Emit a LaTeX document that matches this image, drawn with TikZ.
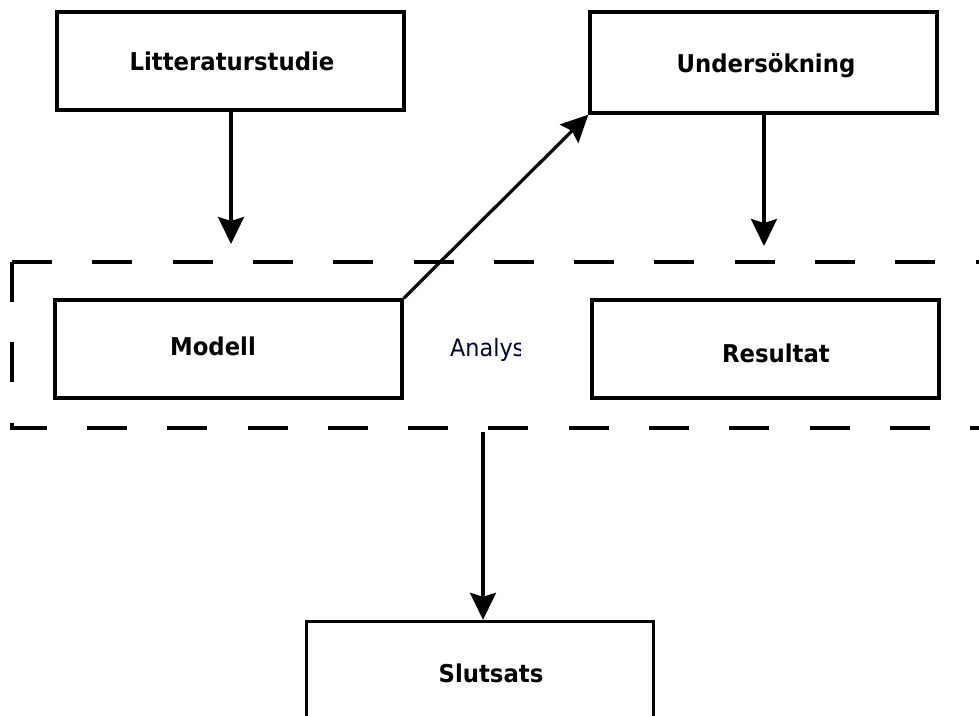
\documentclass[tikz,border=0pt]{standalone}
\usepackage{fontspec}
\setmainfont{DejaVu Sans}[FakeStretch=0.93]
\usetikzlibrary{arrows.meta}
\tikzset{
  stagebox/.style={draw=black, line width=3.4pt, fill=white, inner sep=0pt},
  stagetext/.style={font=\fontsize{24.5}{29}\selectfont\bfseries, inner sep=0pt, anchor=base},
  notetext/.style={font=\fontsize{24}{28}\selectfont, text=black!80!blue, inner sep=0pt, anchor=base west},
  flow/.style={line width=3.2pt, -{Stealth[length=27pt,width=26pt,inset=4pt]}},
  groupline/.style={line width=3.3pt, dash pattern=on 40pt off 40.3pt}
}
\begin{document}
\begin{tikzpicture}[x=1pt,y=-1pt]
\clip (0,0) rectangle (979,715);
\fill[white] (0,0) rectangle (979,715);

% analysis group: dashed frame open to the right
\coordinate (gTL) at (12,262);
\coordinate (gBL) at (12,428);
\coordinate (gTR) at (1000,262);
\coordinate (gBR) at (1000,428);
\draw[groupline] (gTL) -- (gTR);
\draw[groupline] (gTL) -- (gBL) -- (gBR);

% stage boxes
\node[stagebox, minimum width=347pt, minimum height=98pt] (lit) at (230.5,61) {};
\node[stagebox, minimum width=347pt, minimum height=101pt] (und) at (763.5,62.5) {};
\node[stagebox, minimum width=347pt, minimum height=98pt] (mod) at (228.5,349) {};
\node[stagebox, minimum width=347pt, minimum height=98pt] (res) at (765.5,349) {};
\node[stagebox, minimum width=347pt, minimum height=200pt] (slut) at (480,721.5) {};

% labels
\node[stagetext] (litT) at (232,70) {Litteraturstudie};
\node[stagetext] (undT) at (766,72) {Undersökning};
\node[stagetext] (modT) at (213,355) {Modell};
\node[stagetext] (resT) at (776,362) {Resultat};
\node[stagetext] (slutT) at (491,682) {Slutsats};
\begin{scope}
  \clip (440,320) rectangle (520.5,380);
  \node[notetext] (anaT) at (450,356) {Analys};
\end{scope}

% connectors
\coordinate (modIn) at (231,244);
\coordinate (resIn) at (764,246);
\coordinate (gOut) at (483,432);
\draw[flow] (lit.south -| modIn) -- (modIn);
\draw[flow] (und.south -| resIn) -- (resIn);
\draw[flow] (mod.north east) -- (und.south west);
\draw[flow] (gOut) -- (gOut |- slut.north);
\end{tikzpicture}
\end{document}
